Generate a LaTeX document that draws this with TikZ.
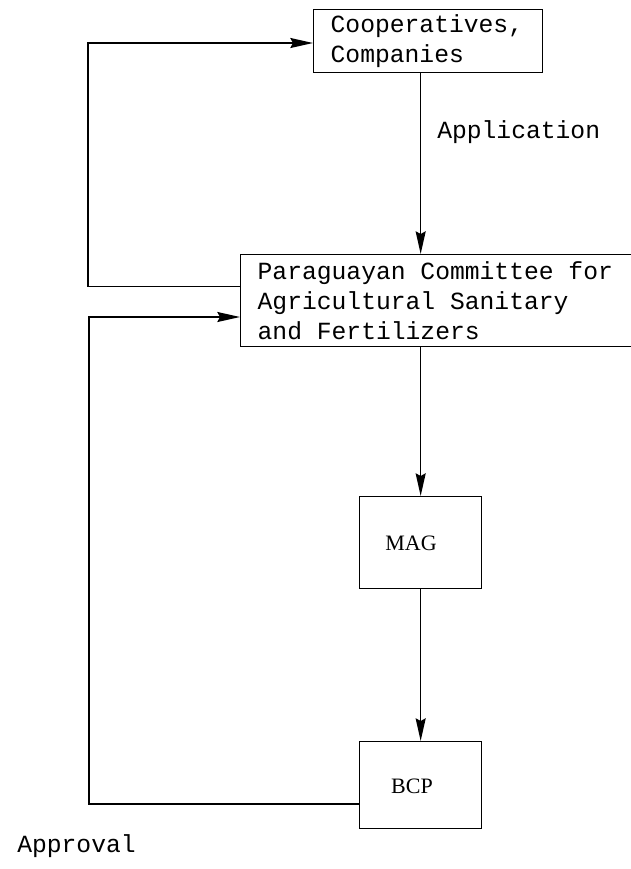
\documentclass[tikz,border=0pt]{standalone}
\usepackage{fontspec}
\setmainfont{Liberation Serif}
\newfontfamily\tw{Liberation Mono}
\newcommand{\twfont}{\tw\fontsize{18.5pt}{22.5pt}\selectfont}
\newcommand{\mysp}{\spaceskip=11.1pt\xspaceskip=11.1pt\relax}
\usetikzlibrary{arrows.meta}
\begin{document}
\begin{tikzpicture}[x=0.75pt,y=-0.75pt,
  arr/.style={line width=1.2pt,-{Stealth[length=17pt,width=7.5pt,inset=2pt]}},
  tbox/.style={draw,line width=1pt,anchor=north west,inner xsep=12.75pt,inner ysep=0pt,
    align=left,font=\twfont},
  pbox/.style={draw,line width=1pt,anchor=north west,inner sep=0pt},
  serif/.style={font=\fontsize{16.5pt}{19pt}\selectfont,inner sep=0pt},
  mono/.style={font=\twfont,inner sep=0pt,anchor=west}]
\useasboundingbox (0,0) rectangle (631,869);
\node[tbox,minimum width=171.75pt,minimum height=47.25pt,text width=146.25pt] (coop) at (313,9)
  {\mysp Cooperatives,\\Companies};
\node[tbox,minimum width=300pt,minimum height=69pt,text width=274.5pt] (parag) at (240,254)
  {\mysp Paraguayan Committee for\\Agricultural Sanitary\\and Fertilizers};
\node[pbox,minimum width=91.5pt,minimum height=69pt] (mag) at (359,496) {};
\node[serif] (magt) at (411,543) {MAG};
\node[pbox,minimum width=91.5pt,minimum height=65.25pt] (bcp) at (359,741) {};
\node[serif] (bcpt) at (412,786) {BCP};
\node[mono] (app) at (437,132) {Application};
\node[mono] (appr) at (17,846) {Approval};
\coordinate (l1) at (88,43);
\coordinate (l2) at (89,317);
\draw[arr] (coop.south -| mag.north) -- (parag.north -| mag.north);
\draw[arr] (parag.south -| mag.north) -- (mag.north);
\draw[arr] (mag.south) -- (bcp.north);
\draw[arr] ([yshift=10.5pt]parag.west) -| (l1) -- (coop.west |- l1);
\draw[arr] ([yshift=-13.9pt]bcp.west) -| (l2) -- (parag.west |- l2);
\end{tikzpicture}
\end{document}
